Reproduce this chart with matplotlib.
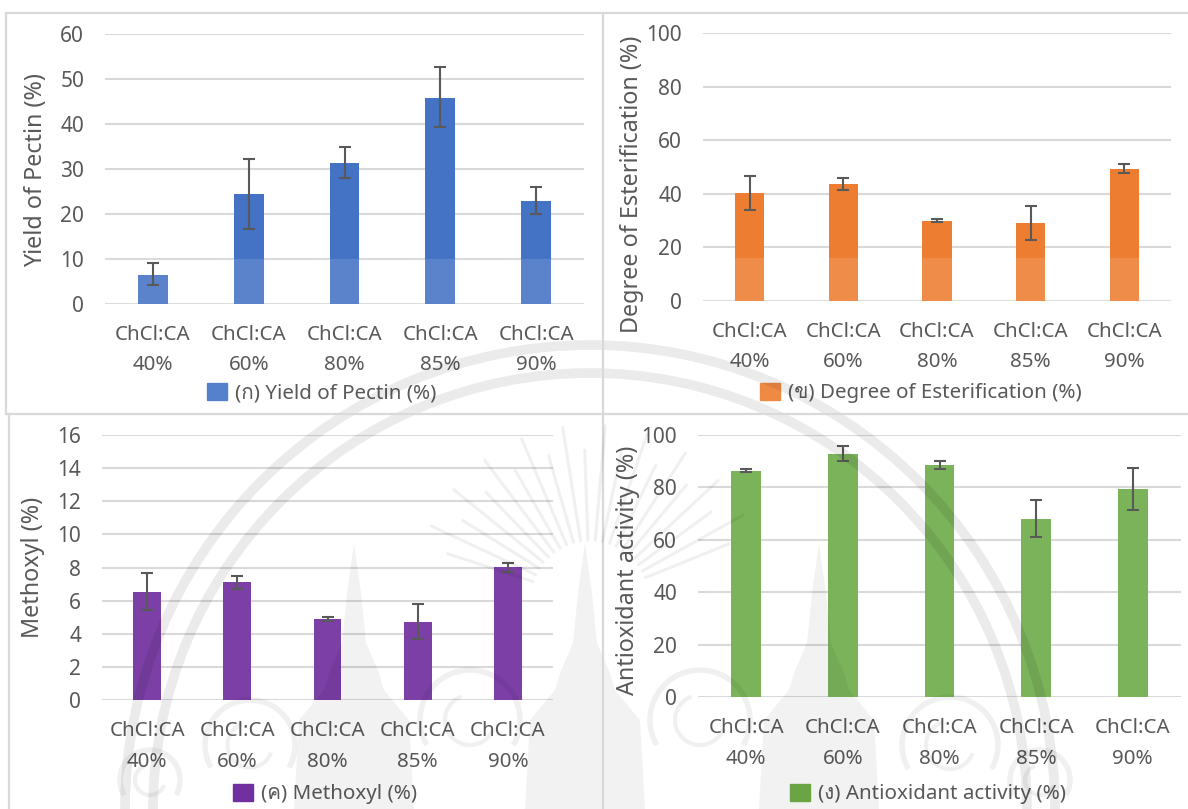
import matplotlib
matplotlib.use('Agg')
import numpy as np
import matplotlib.pyplot as plt
from matplotlib import font_manager
from matplotlib.ft2font import FT2Font
from matplotlib.patches import Arc, Polygon, Rectangle

# look for an installed family that has the Thai letters of the legends
thai_families = []
for f in font_manager.fontManager.ttflist:
    try:
        if ord('ก') in FT2Font(f.fname).get_charmap() and f.name not in thai_families:
            thai_families.append(f.name)
    except Exception:
        pass

plt.rcParams['font.family'] = ['Noto Sans', 'DejaVu Sans'] + thai_families

W, H = 1188, 809

categories = ['ChCl:CA\n40%', 'ChCl:CA\n60%', 'ChCl:CA\n80%', 'ChCl:CA\n85%', 'ChCl:CA\n90%']

yield_vals = [6.5, 24.4, 31.4, 45.8, 22.8]
yield_low = [4.2, 16.7, 28.0, 39.2, 19.9]
yield_high = [9.1, 32.2, 34.8, 52.5, 26.0]

ester_vals = [40.3, 43.5, 30.0, 29.0, 49.3]
ester_low = [34.0, 41.5, 29.3, 22.8, 47.6]
ester_high = [46.7, 46.0, 30.7, 35.5, 51.0]

meth_vals = [6.55, 7.1, 4.9, 4.7, 8.05]
meth_low = [5.45, 6.7, 4.8, 3.7, 7.75]
meth_high = [7.65, 7.5, 5.0, 5.8, 8.3]

anti_vals = [86.3, 92.8, 88.5, 68.0, 79.3]
anti_low = [85.7, 90.0, 87.0, 61.0, 71.5]
anti_high = [87.0, 95.6, 89.8, 75.3, 87.3]

yield_ticks = [0, 10, 20, 30, 40, 50, 60]
ester_ticks = [0, 20, 40, 60, 80, 100]
meth_ticks = [0, 2, 4, 6, 8, 10, 12, 14, 16]
anti_ticks = [0, 20, 40, 60, 80, 100]

GREY = '#595959'
GRID = '#D9D9D9'


def panel(box, vals, low, high, ticks, color, swatch, ylabel, label_pos, legend, legend_pos, pale_below=None):
    # box is left, right, top, bottom in pixels
    left, right, top, bottom = box
    ax = fig.add_axes([left / W, 1 - bottom / H, (right - left) / W, (bottom - top) / H])
    ax.set_facecolor('none')
    x = np.arange(len(vals))
    yerr = [np.array(vals) - np.array(low), np.array(high) - np.array(vals)]
    ax.set_axisbelow(True)
    ax.grid(axis='y', color=GRID, lw=1.5)
    ax.bar(x, vals, width=0.31, color=color, lw=0, zorder=2)
    ax.errorbar(x, vals, yerr=yerr, fmt='none', ecolor=GREY, elinewidth=1.5, capsize=4.2, capthick=1.5, zorder=3)
    ax.set_xlim(-0.5, len(vals) - 0.5)
    ax.set_ylim(ticks[0], ticks[-1])
    ax.set_yticks(ticks)
    ax.set_xticks(x, categories, linespacing=1.7)
    ax.tick_params(axis='x', length=0, pad=15, labelsize=14.8, labelcolor=GREY)
    ax.tick_params(axis='y', length=0, pad=15, labelsize=15, labelcolor=GREY)
    for s in ax.spines.values():
        s.set_visible(False)
    # lower part of the bars is washed out in the scan
    if pale_below is not None:
        ax.axhspan(0, pale_below, color='white', alpha=0.12, lw=0, zorder=2.5)
    fig.text(label_pos[0] / W, 1 - label_pos[1] / H, ylabel, rotation=90, ha='center', va='center',
             fontsize=16.8, color=GREY)
    fig.legend(handles=[Rectangle((0, 0), 1, 1, color=swatch)], labels=[legend],
               loc='center', bbox_to_anchor=(legend_pos[0] / W, 1 - legend_pos[1] / H), frameon=False,
               fontsize=14.8, labelcolor=GREY, handlelength=0.95, handleheight=0.95, handletextpad=0.4)
    return ax


fig = plt.figure(figsize=(W / 100, H / 100), dpi=100, facecolor='white')

panel((105, 584, 33.7, 304), yield_vals, yield_low, yield_high, yield_ticks, '#4472C4', '#5580CB',
      'Yield of Pectin (%)', (36, 170), '(ก) Yield of Pectin (%)', (322, 393), pale_below=10)
panel((703, 1171, 33, 301), ester_vals, ester_low, ester_high, ester_ticks, '#ED7D31', '#EF8A44',
      'Degree of Esterification (%)', (632, 184), '(ข) Degree of Esterification (%)', (921, 393), pale_below=16)
panel((102, 553, 434.7, 700.3), meth_vals, meth_low, meth_high, meth_ticks, '#7B3FA6', '#7030A0',
      'Methoxyl (%)', (33, 567), '(ค) Methoxyl (%)', (325, 794))
panel((698, 1181, 434.7, 697.3), anti_vals, anti_low, anti_high, anti_ticks, '#7BB35A', '#70AD47',
      'Antioxidant activity (%)', (628, 570), '(ง) Antioxidant activity (%)', (928, 794))

# overlay in pixel coordinates: panel frames and the faint seal watermark
over = fig.add_axes([0, 0, 1, 1], zorder=10)
over.set_xlim(0, W)
over.set_ylim(H, 0)
over.axis('off')
over.patch.set_alpha(0)

for xs, ys in [((6, 1188), (13, 13)), ((6, 6), (13, 414)), ((6, 1188), (414, 414)),
               ((603, 603), (13, 809)), ((9, 9), (414, 809))]:
    over.plot(xs, ys, color='#D9D9D9', lw=1.6)

for r, lw in [(465, 7), (437, 7)]:
    over.add_patch(Arc((590, 810), 2 * r, 2 * r, theta1=180, theta2=360, color='black', alpha=0.08, lw=lw))

# rays above the seal centre
for i, deg in enumerate(np.arange(198, 343, 7)):
    a = np.radians(deg)
    r1 = 175 if i % 2 else 150
    over.plot([590 + 60 * np.cos(a), 590 + r1 * np.cos(a)], [600 + 60 * np.sin(a), 600 + r1 * np.sin(a)],
              color='black', alpha=0.06, lw=2.2, solid_capstyle='round')

# spires of the seal
for cx, top in [(354, 543), (585, 543), (819, 543)]:
    over.add_patch(Polygon([(cx, top), (cx + 7, top + 50), (cx + 12, top + 100), (cx + 25, top + 130), (cx + 30, 690),
                            (cx + 55, 720), (cx + 60, 809), (cx - 60, 809), (cx - 55, 720), (cx - 30, 690),
                            (cx - 25, top + 130), (cx - 12, top + 100), (cx - 7, top + 50)],
                           closed=True, facecolor='black', alpha=0.05, lw=0))

# dragon curls beside the spires
for cx, cy, r in [(250, 745, 45), (470, 720, 50), (700, 720, 50), (950, 745, 48), (150, 780, 30), (1040, 780, 30)]:
    over.add_patch(Arc((cx, cy), 2 * r, 2 * r, theta1=150, theta2=390, color='black', alpha=0.06, lw=4))
    over.add_patch(Arc((cx, cy), r, r, theta1=20, theta2=250, color='black', alpha=0.06, lw=3))

fig.savefig('out.png', dpi=100)
